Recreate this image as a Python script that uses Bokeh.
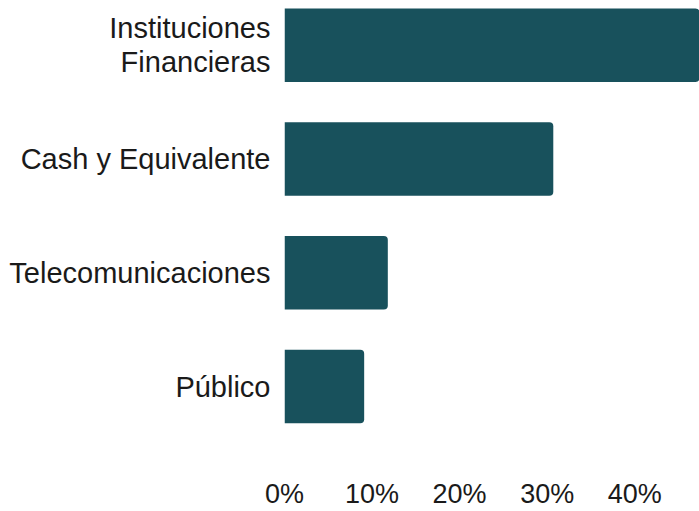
from bokeh.plotting import figure
from bokeh.models import Range1d, FixedTicker, PrintfTickFormatter, ColumnDataSource
from bokeh.embed import file_html
from bokeh.resources import INLINE

categories = ["Público", "Telecomunicaciones", "Cash y Equivalente", "Instituciones\nFinancieras"]
values = [9.1, 11.8, 30.7, 48.0]
x_ticks = [0, 10, 20, 30, 40]
positions = list(range(len(categories)))

BAR_COLOR = "#18515c"
FONT = "Liberation Sans"

src = ColumnDataSource(data=dict(y=positions, v=values))

p = figure(width=699, height=511, output_backend="svg", toolbar_location=None,
           x_range=Range1d(0, 47.4), y_range=Range1d(-0.694, 3.393),
           min_border_left=284, min_border_right=0, min_border_top=0, min_border_bottom=43)

p.hbar(y="y", right="v", left=0, height=0.646, source=src, fill_color=BAR_COLOR,
       line_color=None, border_radius=(0, 4, 4, 0))

p.xaxis.ticker = FixedTicker(ticks=x_ticks)
p.xaxis.formatter = PrintfTickFormatter(format="%d%%")
p.yaxis.ticker = FixedTicker(ticks=positions)
p.yaxis.major_label_overrides = {i: c for i, c in zip(positions, categories)}

for ax in (p.xaxis[0], p.yaxis[0]):
    ax.axis_line_color = None
    ax.major_tick_line_color = None
    ax.minor_tick_line_color = None
    ax.major_tick_out = 0
    ax.major_tick_in = 0
    ax.major_label_text_font = FONT
    ax.major_label_text_color = "#1a1a1a"

p.xaxis.major_label_text_font_size = "27px"
p.yaxis.major_label_text_font_size = "29px"
p.yaxis.major_label_text_line_height = 1.05
p.xaxis.major_label_standoff = 13
p.yaxis.major_label_standoff = 14

p.xgrid.grid_line_color = None
p.ygrid.grid_line_color = None
p.outline_line_color = None
p.background_fill_color = "white"
p.border_fill_color = "white"

open("out.html", "w").write(file_html(p, INLINE))
